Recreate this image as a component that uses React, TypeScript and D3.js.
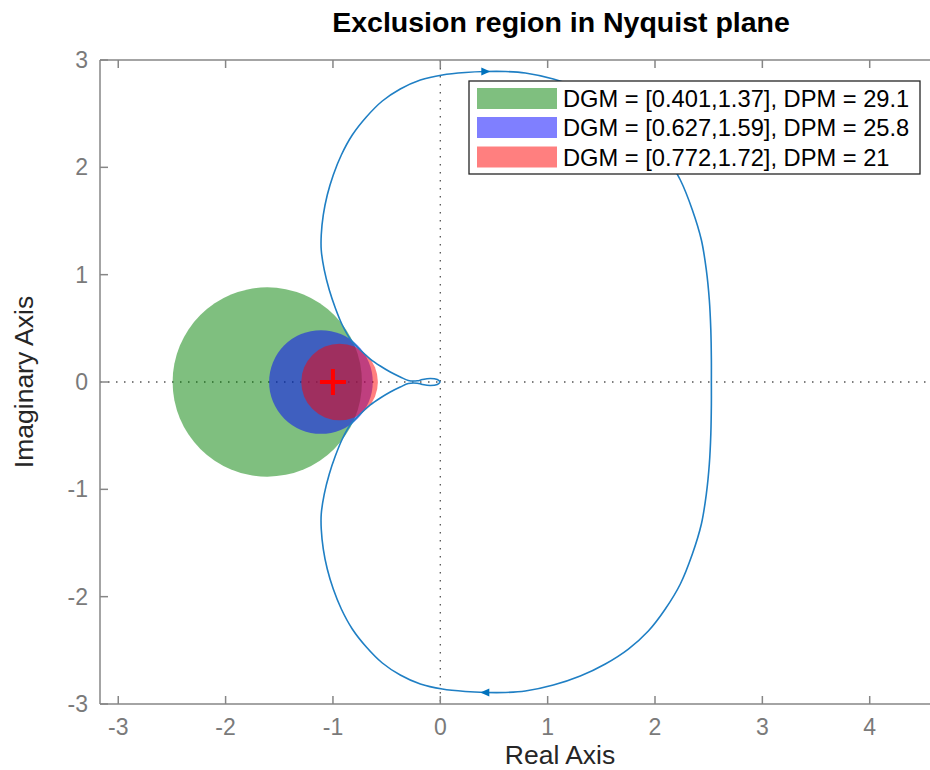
import React from 'react';
import * as d3 from 'd3';

// Nyquist curve, upper half (Re, Im); lower half is its conjugate
const upperRe = [0, -0.028, -0.093, -0.168, -0.214, -0.298, -0.373, -0.466, -0.559, -0.652, -0.745, -0.839, -0.913, -0.978, -1.034, -1.081, -1.109, -1.109, -1.09, -1.053, -0.997, -0.922, -0.82, -0.689, -0.54, -0.373, -0.186, 0.019, 0.233, 0.419, 0.606, 0.792, 1.053, 1.304, 1.537, 1.752, 1.938, 2.096, 2.236, 2.348, 2.432, 2.478, 2.506, 2.52, 2.525, 2.525];
const upperIm = [0, 0.023, 0.033, 0.023, 0.011, 0.014, 0.047, 0.093, 0.149, 0.214, 0.298, 0.401, 0.531, 0.69, 0.857, 1.044, 1.23, 1.37, 1.556, 1.742, 1.929, 2.115, 2.301, 2.469, 2.618, 2.73, 2.814, 2.861, 2.884, 2.893, 2.893, 2.879, 2.823, 2.739, 2.627, 2.488, 2.32, 2.115, 1.882, 1.603, 1.323, 1.044, 0.764, 0.484, 0.205, 0];

// Disk margins
const dgmMin = [0.401, 0.627, 0.772];
const dgmMax = [1.37, 1.59, 1.72];
const dpm = [29.1, 25.8, 21];
const diskColors = ['#008000', '#0000ff', '#ff0000'];

const xTicks = [-3, -2, -1, 0, 1, 2, 3, 4];
const yTicks = [-3, -2, -1, 0, 1, 2, 3];
const arrowAt = 0.419;

const W = 930;
const H = 770;
const left = 100;
const right = 1020;
const top = 60;
const bottom = 704;

export default function App() {
  const x = d3.scaleLinear().domain([-3.17, 5.4]).range([left, right]);
  const y = d3.scaleLinear().domain([-3, 3]).range([bottom, top]);

  const pts: [number, number][] = [];
  upperRe.forEach((r, i) => pts.push([r, upperIm[i]]));
  for (let i = upperRe.length - 2; i >= 0; i--) pts.push([upperRe[i], -upperIm[i]]);
  const line = d3.line<[number, number]>().x(d => x(d[0])).y(d => y(d[1])).curve(d3.curveCatmullRom.alpha(0.5));

  const k = upperRe.findIndex(v => v >= arrowAt);
  const aTop = upperIm[k];

  const axisColor = '#868686';
  const tickColor = '#7a7a7a';
  const tickLen = 8;
  const font = '"Liberation Sans", Arial, Helvetica, sans-serif';

  const legX = 469, legY = 81, legW = 451, legH = 93;
  const rowY = [98.5, 127.5, 157];

  return (
    <svg width={W} height={H} style={{ position: 'absolute', left: 0, top: 0, background: '#fff' }} fontFamily={font}>
      <defs>
        <clipPath id="plotclip">
          <rect x={left} y={top} width={right - left} height={bottom - top} />
        </clipPath>
      </defs>
      <rect x={0} y={0} width={W} height={H} fill="#fff" />
      <g clipPath="url(#plotclip)">
        {/* dotted zero lines */}
        <line x1={x(0)} x2={x(0)} y1={top} y2={bottom} stroke="#555" strokeWidth={1.3} strokeDasharray="1.5 6.5" />
        <line x1={left} x2={right} y1={y(0)} y2={y(0)} stroke="#555" strokeWidth={1.3} strokeDasharray="1.5 6.5" />
        {/* disks */}
        {dgmMin.map((g, i) => {
          const a = -1 / g, b = -1 / dgmMax[i];
          const c = (a + b) / 2, r = (b - a) / 2;
          return <ellipse key={i} cx={x(c)} cy={y(0)} rx={x(c + r) - x(c)} ry={y(0) - y(r)} fill={diskColors[i]} fillOpacity={0.5} />;
        })}
        {/* Nyquist curve */}
        <path d={line(pts) || ''} fill="none" stroke="#1f7fc4" strokeWidth={1.6} />
        {/* arrows */}
        <path d={`M${x(arrowAt) + 5},${y(aTop)} L${x(arrowAt) - 4},${y(aTop) - 4} L${x(arrowAt) - 4},${y(aTop) + 4} Z`} fill="#0072BD" />
        <path d={`M${x(arrowAt) - 5},${y(-aTop)} L${x(arrowAt) + 4},${y(-aTop) - 4} L${x(arrowAt) + 4},${y(-aTop) + 4} Z`} fill="#0072BD" />
        {/* critical point */}
        <line x1={x(-1) - 13} x2={x(-1) + 13} y1={y(0)} y2={y(0)} stroke="#ff0000" strokeWidth={4} />
        <line x1={x(-1)} x2={x(-1)} y1={y(0) - 13} y2={y(0) + 13} stroke="#ff0000" strokeWidth={4} />
      </g>
      {/* axes box */}
      <line x1={left} x2={right} y1={top} y2={top} stroke={axisColor} strokeWidth={1.5} />
      <line x1={left} x2={right} y1={bottom} y2={bottom} stroke={axisColor} strokeWidth={1.5} />
      <line x1={left} x2={left} y1={top} y2={bottom} stroke={axisColor} strokeWidth={1.5} />
      {xTicks.map(t => (
        <g key={'xt' + t}>
          <line x1={x(t)} x2={x(t)} y1={bottom} y2={bottom - tickLen} stroke={axisColor} strokeWidth={1.5} />
          <line x1={x(t)} x2={x(t)} y1={top} y2={top + tickLen} stroke={axisColor} strokeWidth={1.5} />
          <text x={x(t)} y={bottom + 31} textAnchor="middle" fontSize={23} fill={tickColor}>{t < 0 ? '-' + Math.abs(t) : String(t)}</text>
        </g>
      ))}
      {yTicks.map(t => (
        <g key={'yt' + t}>
          <line x1={left} x2={left + tickLen} y1={y(t)} y2={y(t)} stroke={axisColor} strokeWidth={1.5} />
          <text x={left - 12} y={y(t) + 8} textAnchor="end" fontSize={23} fill={tickColor}>{t < 0 ? '-' + Math.abs(t) : String(t)}</text>
        </g>
      ))}
      {/* labels */}
      <text x={560} y={764} textAnchor="middle" fontSize={26.5} fill="#262626">Real Axis</text>
      <text transform={`translate(33,${(top + bottom) / 2}) rotate(-90)`} textAnchor="middle" fontSize={26.5} fill="#262626">Imaginary Axis</text>
      <text x={561} y={32} textAnchor="middle" fontSize={28.5} fontWeight="bold" fill="#000">Exclusion region in Nyquist plane</text>
      {/* legend */}
      <rect x={legX} y={legY} width={legW} height={legH} fill="#fff" stroke="#262626" strokeWidth={1.3} />
      {dgmMin.map((g, i) => (
        <g key={'lg' + i}>
          <rect x={477} y={rowY[i] - 10.5} width={80} height={21} fill={diskColors[i]} fillOpacity={0.5} />
          <text x={563} y={rowY[i] + 8.5} fontSize={23.7} fill="#000">{`DGM = [${g},${dgmMax[i]}], DPM = ${dpm[i]}`}</text>
        </g>
      ))}
    </svg>
  );
}
